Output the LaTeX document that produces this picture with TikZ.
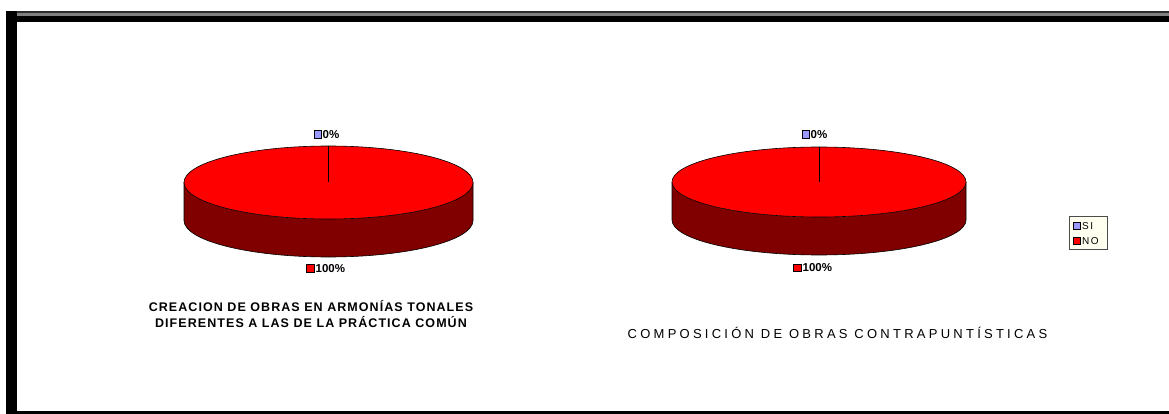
\documentclass[tikz,border=0pt]{standalone}
\usepackage{fontspec}
\setmainfont{Liberation Sans}
\newfontfamily\titlefont[LetterSpace=8.5]{Liberation Sans}
\newfontfamily\widefont[LetterSpace=25]{Liberation Sans}
\newfontfamily\legfont[LetterSpace=15]{Liberation Sans}
\definecolor{pietop}{RGB}{255,0,0}
\definecolor{pieside}{RGB}{128,0,0}
\definecolor{siblue}{RGB}{153,153,255}
\definecolor{legbg}{RGB}{255,255,240}
\definecolor{framegray}{RGB}{128,128,128}
\definecolor{framedark}{RGB}{45,45,45}
\tikzset{
  pct/.style={font=\fontsize{11.5}{12}\selectfont\bfseries, inner sep=0pt, anchor=west},
  sq/.style={draw=black, line width=0.6pt, minimum width=7.5pt, minimum height=7.5pt, inner sep=0pt},
  ttl/.style={font=\fontsize{12.5}{16}\selectfont\bfseries\titlefont, align=center, inner sep=0pt},
  ttltwo/.style={font=\fontsize{13}{14}\selectfont\widefont, inner sep=0pt},
  leg/.style={font=\fontsize{10}{10}\selectfont\legfont, inner sep=0pt, anchor=west}
}
\newcommand{\drawpie}[5]{% cx, cy, rx, ry, depth
  \fill[pieside] (#1-#3,#2) -- (#1-#3,#2+#5) arc[start angle=180, end angle=360, x radius=#3, y radius=-#4] -- (#1+#3,#2) arc[start angle=0, end angle=-180, x radius=#3, y radius=-#4] -- cycle;
  \draw[black, line width=0.6pt] (#1-#3,#2) -- (#1-#3,#2+#5) arc[start angle=180, end angle=360, x radius=#3, y radius=-#4] -- (#1+#3,#2);
  \fill[pietop, draw=black, line width=0.6pt] (#1,#2) ellipse[x radius=#3, y radius=#4];
  \draw[black, line width=0.6pt] (#1,#2) -- (#1,#2-#4);
}
\begin{document}
\begin{tikzpicture}[x=1pt,y=-1pt]
\useasboundingbox (0,0) rectangle (1169,414);
\fill[white] (0,0) rectangle (1169,414);
% frame
\fill[framedark] (6,11) rectangle (1169,22);
\fill[framegray] (9,13.5) rectangle (1169,16);
\fill[black] (9,16) rectangle (1169,22);
\fill[black] (6,11) rectangle (17,414);
\fill[black] (6,411) rectangle (1169,414);
% pies
\drawpie{328.5}{182.5}{144.5}{36.5}{38}
\drawpie{819}{182}{147}{35}{38}
% labels chart 1
\node[sq, fill=siblue] (sqa) at (318,134.5) {};
\node[pct] (zeroa) at (322.5,134.5) {0\%};
\node[sq, fill=pietop] (sqb) at (310.5,268.5) {};
\node[pct] (fulla) at (315.5,268.5) {100\%};
% labels chart 2
\node[sq, fill=siblue] (sqc) at (806,134.5) {};
\node[pct] (zerob) at (810.5,134.5) {0\%};
\node[sq, fill=pietop] (sqd) at (797.5,268) {};
\node[pct] (fullb) at (802.5,268) {100\%};
% titles
\node[ttl] (titlea) at (311,314) {CREACION DE OBRAS EN ARMONÍAS TONALES\\DIFERENTES A LAS DE LA PRÁCTICA COMÚN};
\node[ttltwo] (titleb) at (837.5,333) {COMPOSICIÓN DE OBRAS CONTRAPUNTÍSTICAS};
% legend
\node[draw=black!70, fill=legbg, minimum width=38pt, minimum height=33pt, inner sep=0pt] (legend) at (1088,232.5) {};
\node[sq, fill=siblue] (lsi) at (1077,226) {};
\node[leg] (tsi) at (1082,226) {SI};
\node[sq, fill=pietop] (lno) at (1077,241) {};
\node[leg] (tno) at (1082,241) {NO};
\end{tikzpicture}
\end{document}
